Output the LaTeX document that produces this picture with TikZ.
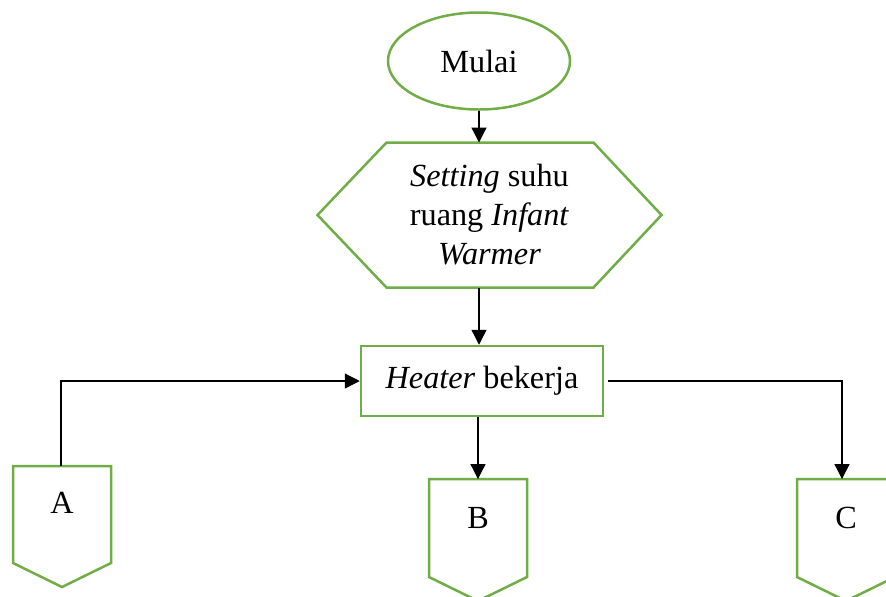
\documentclass[tikz,border=0pt]{standalone}
\usepackage{fontspec}
\setmainfont{Liberation Serif}
\usetikzlibrary{arrows.meta,calc,shapes.geometric}

\definecolor{flowgreen}{HTML}{70AD47}

\tikzset{
  greenline/.style={draw=flowgreen, line width=1pt},
  arrow/.style={-{Triangle[length=6pt,width=6pt]}, line width=0.5pt},
}

\begin{document}
\begin{tikzpicture}[x=0.4pt, y=-0.4pt, font=\fontsize{12.9pt}{15.6pt}\selectfont]

\clip (0,0) rectangle (886,596);

% Terminator
\node[greenline, ellipse, minimum width=72.8pt, minimum height=38.8pt] (start) at (479,61) {Mulai};

% Preparation step
\node[minimum width=137.2pt, minimum height=57.6pt, inner sep=0pt, align=center] (set) at (489.5,215)
  {\textit{Setting} suhu\\ ruang \textit{Infant}\\ \textit{Warmer}};
\draw[greenline] (set.west) -- ($(set.north west)+(69,0)$) -- ($(set.north east)+(-68,0)$)
  -- (set.east) -- ($(set.south east)+(-68,0)$) -- ($(set.south west)+(69,0)$) -- cycle;

% Process
\node[greenline, minimum width=96.8pt, minimum height=28pt] (heat) at (482,381) {\textit{Heater} bekerja};

% Off-page connectors
\draw[greenline] (13,466) -- (111,466) -- (111,563) -- (62,587) -- (13,563) -- cycle;
\node (a) at (62,503) {A};
\coordinate (a-top) at (61,466);

\draw[greenline] (429,479) -- (527,479) -- (527,577) -- (478,601) -- (429,577) -- cycle;
\node (b) at (478,518) {B};
\coordinate (b-top) at (478,479);

\draw[greenline] (797,479) -- (895,479) -- (895,577) -- (846,601) -- (797,577) -- cycle;
\node (c) at (846,518) {C};
\coordinate (c-top) at (842,479);

% Arrows
\draw[arrow] (start.south) -- (start.south |- set.north);
\draw[arrow] (start.south |- set.south) -- (start.south |- heat.north);
\draw[arrow] (b-top |- heat.south) -- (b-top);
\draw[arrow] (a-top) |- (heat.west);
\draw[arrow] ($(heat.east)+(4,0)$) -| (c-top);

\end{tikzpicture}
\end{document}
